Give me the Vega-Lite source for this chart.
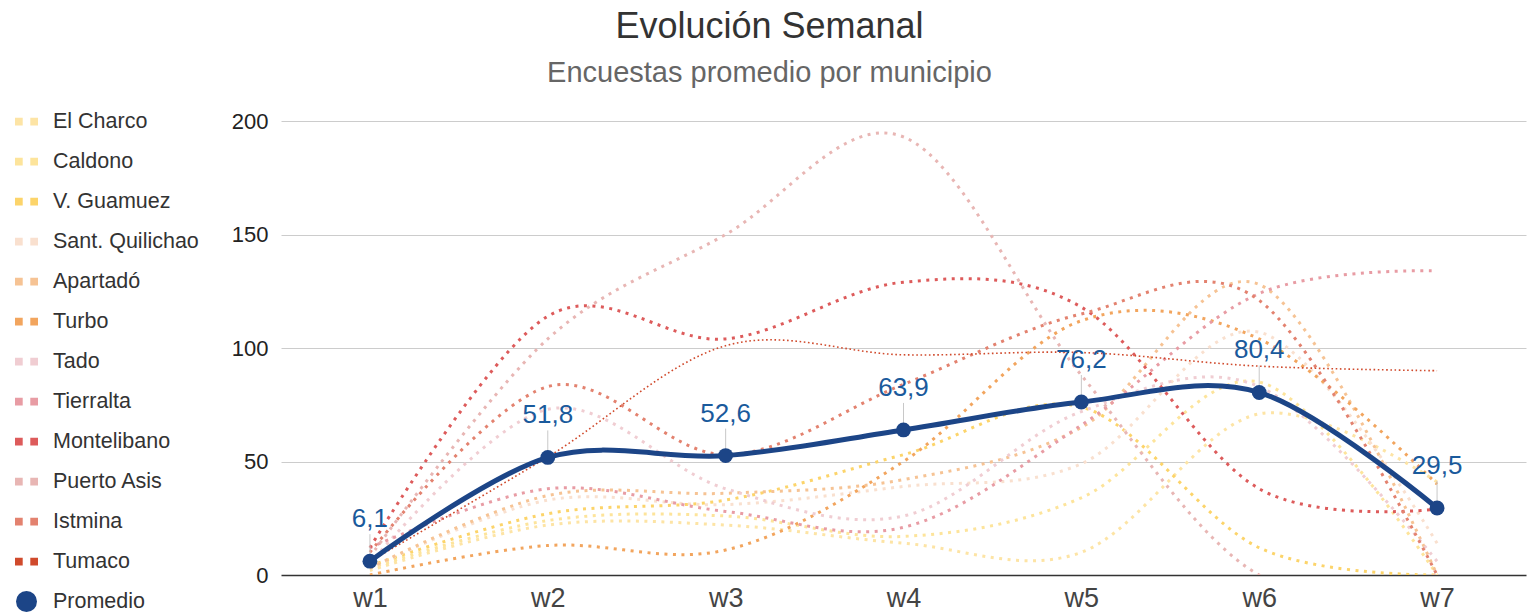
{
  "$schema": "https://vega.github.io/schema/vega-lite/v6.json",
  "width": 1245,
  "height": 454,
  "autosize": {"type": "none"},
  "padding": {"left": 281, "top": 121, "right": 2, "bottom": 40},
  "background": "white",
  "config": {
    "view": {"stroke": null},
    "font": "Liberation Sans",
    "locale": {"number": {"decimal": ",", "thousands": ".", "grouping": [3], "currency": ["", " €"]}}
  },
  "title": {
    "text": "Evolución Semanal",
    "subtitle": "Encuestas promedio por municipio",
    "anchor": "middle",
    "dx": -134,
    "fontSize": 36,
    "fontWeight": "normal",
    "color": "#333333",
    "subtitleFontSize": 29,
    "subtitleColor": "#666666",
    "subtitlePadding": 13,
    "offset": 21
  },
  "data": {
    "values": [
      {"serie": "El Charco", "semana": "w1", "valor": 2},
      {"serie": "El Charco", "semana": "w2", "valor": 22},
      {"serie": "El Charco", "semana": "w3", "valor": 22},
      {"serie": "El Charco", "semana": "w4", "valor": 14},
      {"serie": "El Charco", "semana": "w5", "valor": 10},
      {"serie": "El Charco", "semana": "w6", "valor": 71},
      {"serie": "El Charco", "semana": "w7", "valor": 41},
      {"serie": "Caldono", "semana": "w1", "valor": 3},
      {"serie": "Caldono", "semana": "w2", "valor": 24},
      {"serie": "Caldono", "semana": "w3", "valor": 26},
      {"serie": "Caldono", "semana": "w4", "valor": 17},
      {"serie": "Caldono", "semana": "w5", "valor": 34},
      {"serie": "Caldono", "semana": "w6", "valor": 85},
      {"serie": "Caldono", "semana": "w7", "valor": 0},
      {"serie": "V. Guamuez", "semana": "w1", "valor": 4},
      {"serie": "V. Guamuez", "semana": "w2", "valor": 27},
      {"serie": "V. Guamuez", "semana": "w3", "valor": 33},
      {"serie": "V. Guamuez", "semana": "w4", "valor": 53},
      {"serie": "V. Guamuez", "semana": "w5", "valor": 74},
      {"serie": "V. Guamuez", "semana": "w6", "valor": 12},
      {"serie": "V. Guamuez", "semana": "w7", "valor": 0},
      {"serie": "Sant. Quilichao", "semana": "w1", "valor": 3},
      {"serie": "Sant. Quilichao", "semana": "w2", "valor": 33},
      {"serie": "Sant. Quilichao", "semana": "w3", "valor": 31},
      {"serie": "Sant. Quilichao", "semana": "w4", "valor": 39},
      {"serie": "Sant. Quilichao", "semana": "w5", "valor": 49},
      {"serie": "Sant. Quilichao", "semana": "w6", "valor": 107},
      {"serie": "Sant. Quilichao", "semana": "w7", "valor": 14},
      {"serie": "Apartadó", "semana": "w1", "valor": 3},
      {"serie": "Apartadó", "semana": "w2", "valor": 35},
      {"serie": "Apartadó", "semana": "w3", "valor": 36},
      {"serie": "Apartadó", "semana": "w4", "valor": 42},
      {"serie": "Apartadó", "semana": "w5", "valor": 65},
      {"serie": "Apartadó", "semana": "w6", "valor": 128},
      {"serie": "Apartadó", "semana": "w7", "valor": 0},
      {"serie": "Turbo", "semana": "w1", "valor": 0},
      {"serie": "Turbo", "semana": "w2", "valor": 13},
      {"serie": "Turbo", "semana": "w3", "valor": 11},
      {"serie": "Turbo", "semana": "w4", "valor": 50},
      {"serie": "Turbo", "semana": "w5", "valor": 112},
      {"serie": "Turbo", "semana": "w6", "valor": 104},
      {"serie": "Turbo", "semana": "w7", "valor": 40},
      {"serie": "Tado", "semana": "w1", "valor": 5},
      {"serie": "Tado", "semana": "w2", "valor": 73},
      {"serie": "Tado", "semana": "w3", "valor": 38},
      {"serie": "Tado", "semana": "w4", "valor": 26},
      {"serie": "Tado", "semana": "w5", "valor": 72},
      {"serie": "Tado", "semana": "w6", "valor": 83},
      {"serie": "Tado", "semana": "w7", "valor": 6},
      {"serie": "Tierralta", "semana": "w1", "valor": 12},
      {"serie": "Tierralta", "semana": "w2", "valor": 38},
      {"serie": "Tierralta", "semana": "w3", "valor": 28},
      {"serie": "Tierralta", "semana": "w4", "valor": 21},
      {"serie": "Tierralta", "semana": "w5", "valor": 66},
      {"serie": "Tierralta", "semana": "w6", "valor": 124},
      {"serie": "Tierralta", "semana": "w7", "valor": 134},
      {"serie": "Montelibano", "semana": "w1", "valor": 12},
      {"serie": "Montelibano", "semana": "w2", "valor": 114},
      {"serie": "Montelibano", "semana": "w3", "valor": 104},
      {"serie": "Montelibano", "semana": "w4", "valor": 129},
      {"serie": "Montelibano", "semana": "w5", "valor": 118},
      {"serie": "Montelibano", "semana": "w6", "valor": 38},
      {"serie": "Montelibano", "semana": "w7", "valor": 29},
      {"serie": "Puerto Asis", "semana": "w1", "valor": 8},
      {"serie": "Puerto Asis", "semana": "w2", "valor": 104},
      {"serie": "Puerto Asis", "semana": "w3", "valor": 150},
      {"serie": "Puerto Asis", "semana": "w4", "valor": 193},
      {"serie": "Puerto Asis", "semana": "w5", "valor": 88},
      {"serie": "Puerto Asis", "semana": "w6", "valor": 0},
      {"serie": "Puerto Asis", "semana": "w7", "valor": 0},
      {"serie": "Istmina", "semana": "w1", "valor": 10},
      {"serie": "Istmina", "semana": "w2", "valor": 83},
      {"serie": "Istmina", "semana": "w3", "valor": 53},
      {"serie": "Istmina", "semana": "w4", "valor": 84},
      {"serie": "Istmina", "semana": "w5", "valor": 115},
      {"serie": "Istmina", "semana": "w6", "valor": 121},
      {"serie": "Istmina", "semana": "w7", "valor": 0},
      {"serie": "Tumaco", "semana": "w1", "valor": 6},
      {"serie": "Tumaco", "semana": "w2", "valor": 52},
      {"serie": "Tumaco", "semana": "w3", "valor": 101},
      {"serie": "Tumaco", "semana": "w4", "valor": 97},
      {"serie": "Tumaco", "semana": "w5", "valor": 98},
      {"serie": "Tumaco", "semana": "w6", "valor": 92},
      {"serie": "Tumaco", "semana": "w7", "valor": 90},
      {"serie": "Promedio", "semana": "w1", "valor": 6.1},
      {"serie": "Promedio", "semana": "w2", "valor": 51.8},
      {"serie": "Promedio", "semana": "w3", "valor": 52.6},
      {"serie": "Promedio", "semana": "w4", "valor": 63.9},
      {"serie": "Promedio", "semana": "w5", "valor": 76.2},
      {"serie": "Promedio", "semana": "w6", "valor": 80.4},
      {"serie": "Promedio", "semana": "w7", "valor": 29.5}
    ]
  },
  "encoding": {
    "x": {
      "field": "semana",
      "type": "ordinal",
      "scale": {"type": "point", "padding": 0.5},
      "axis": {"title": null, "labelAngle": 0, "labelFontSize": 27, "labelColor": "#444444", "labelPadding": 10, "ticks": false, "domain": false, "grid": false}
    },
    "y": {
      "field": "valor",
      "type": "quantitative",
      "scale": {"domain": [0, 200], "nice": false},
      "axis": {
        "title": null,
        "values": [0, 50, 100, 150, 200],
        "labelFontSize": 22,
        "labelColor": "#222222",
        "labelPadding": 13,
        "ticks": false,
        "domain": false,
        "grid": true,
        "gridColor": {"condition": {"test": "datum.value === 0", "value": "#333333"}, "value": "#cccccc"},
        "gridWidth": {"condition": {"test": "datum.value === 0", "value": 1.5}, "value": 1}
      }
    },
    "color": {
      "field": "serie",
      "type": "nominal",
      "scale": {
        "domain": ["El Charco", "Caldono", "V. Guamuez", "Sant. Quilichao", "Apartadó", "Turbo", "Tado", "Tierralta", "Montelibano", "Puerto Asis", "Istmina", "Tumaco", "Promedio"],
        "range": ["#fde4a5", "#fde49b", "#fcd46a", "#f9e0cf", "#f6c394", "#f2a55e", "#f0cdd2", "#e89ca4", "#dd5b5b", "#e8b6b4", "#e3826f", "#d04a2c", "#1c4587"]
      },
      "legend": {
        "title": null,
        "orient": "none",
        "legendX": -266,
        "legendY": -11,
        "direction": "vertical",
        "padding": 0,
        "symbolType": "M-1,-0.33h0.67v0.67h-0.67zM0.33,-0.33h0.67v0.67h-0.67z",
        "symbolSize": 529,
        "symbolStrokeWidth": 0,
        "symbolDash": [1, 0],
        "symbolOpacity": 1,
        "labelFontSize": 21.5,
        "labelColor": "#333333",
        "labelOffset": 15,
        "rowPadding": 18,
        "encode": {
          "symbols": {
            "update": {
              "shape": {"signal": "datum.value === 'Promedio' ? 'circle' : 'M-1,-0.33h0.67v0.67h-0.67zM0.33,-0.33h0.67v0.67h-0.67z'"},
              "size": {"signal": "datum.value === 'Promedio' ? 441 : 529"},
              "fill": {"scale": "color", "field": "value"},
              "stroke": {"value": "transparent"},
              "strokeWidth": {"value": 0},
              "strokeDash": {"value": [1, 0]},
              "opacity": {"value": 1}
            }
          }
        }
      }
    }
  },
  "layer": [
    {
      "transform": [{"filter": "datum.serie !== 'Promedio' && datum.serie !== 'Tumaco'"}],
      "mark": {"type": "line", "interpolate": "cardinal", "strokeWidth": 3, "strokeDash": [3, 5.5], "strokeCap": "butt", "clip": true}
    },
    {
      "transform": [{"filter": "datum.serie === 'Tumaco'"}],
      "mark": {"type": "line", "interpolate": "cardinal", "strokeWidth": 1.6, "strokeDash": [1.6, 2.6], "strokeCap": "butt", "clip": true}
    },
    {
      "transform": [{"filter": "datum.serie === 'Promedio'"}],
      "mark": {"type": "line", "interpolate": "cardinal", "strokeWidth": 5, "clip": true}
    },
    {
      "transform": [{"filter": "datum.serie === 'Promedio'"}],
      "mark": {"type": "point", "shape": "M0,0L0,-1", "filled": false, "size": 2916, "strokeWidth": 1, "opacity": 1},
      "encoding": {"color": {"value": "#c8c8c8"}}
    },
    {
      "transform": [{"filter": "datum.serie === 'Promedio'"}],
      "mark": {"type": "point", "shape": "circle", "filled": true, "size": 220, "opacity": 1}
    },
    {
      "transform": [{"filter": "datum.serie === 'Promedio'"}],
      "mark": {"type": "text", "dy": -42, "fontSize": 26, "font": "Liberation Sans"},
      "encoding": {
        "text": {"field": "valor", "type": "quantitative", "format": ".1f"},
        "color": {"value": "#1a5a9c"}
      }
    }
  ]
}
